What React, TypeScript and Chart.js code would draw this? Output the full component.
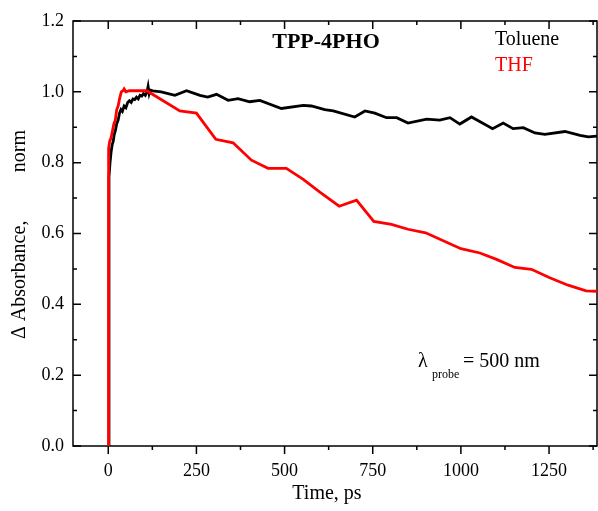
import React, { useEffect, useRef } from "react";
import { Chart, registerables } from "chart.js";

Chart.register(...registerables);

const tolueneTime = [0, 2, 5, 8, 11, 14, 17, 20, 24, 28, 32, 36, 40, 45, 50, 55, 60, 65, 70, 75, 80, 85, 90, 95, 100, 105, 110, 113, 116, 119, 126, 150, 189, 222, 260, 282, 307, 340, 368, 401, 430, 491, 553, 576, 614, 638, 699, 728, 756, 789, 818, 850, 903, 940, 969, 997, 1030, 1090, 1120, 1148, 1177, 1210, 1238, 1295, 1338, 1361, 1386];
const tolueneValues = [0, 0.76, 0.8, 0.83, 0.85, 0.86, 0.88, 0.89, 0.91, 0.92, 0.94, 0.95, 0.945, 0.96, 0.955, 0.97, 0.975, 0.97, 0.98, 0.978, 0.985, 0.98, 0.99, 0.988, 0.995, 0.99, 1.0, 1.015, 0.995, 1.005, 1.003, 1.0, 0.99, 1.003, 0.99, 0.985, 0.993, 0.976, 0.981, 0.972, 0.976, 0.953, 0.962, 0.96, 0.95, 0.946, 0.929, 0.946, 0.94, 0.927, 0.927, 0.912, 0.923, 0.92, 0.927, 0.909, 0.929, 0.896, 0.912, 0.896, 0.899, 0.884, 0.88, 0.888, 0.877, 0.873, 0.875];

const thfTime = [0, 1, 4, 8, 12, 16, 20, 24, 28, 32, 37, 42, 45, 50, 60, 75, 100, 109, 203, 250, 305, 354, 406, 453, 505, 553, 600, 655, 704, 753, 803, 850, 900, 1000, 1054, 1101, 1153, 1200, 1252, 1304, 1355, 1386];
const thfValues = [0, 0.84, 0.86, 0.87, 0.89, 0.91, 0.92, 0.95, 0.96, 0.98, 1.0, 1.003, 1.008, 1.0, 1.003, 1.003, 1.003, 1.003, 0.946, 0.94, 0.866, 0.856, 0.807, 0.784, 0.784, 0.753, 0.717, 0.677, 0.694, 0.634, 0.626, 0.612, 0.602, 0.557, 0.545, 0.527, 0.504, 0.499, 0.475, 0.454, 0.438, 0.437];

const xTicks = [0, 250, 500, 750, 1000, 1250];
const xMinorTicks = [125, 375, 625, 875, 1125, 1375];
const yTicks = [0, 0.2, 0.4, 0.6, 0.8, 1.0, 1.2];
const yMinorTicks = [0.1, 0.3, 0.5, 0.7, 0.9, 1.1];

const seriesNames = ["Toluene", "THF"];
const seriesColors = ["#000000", "#ff0000"];
const chartTitle = "TPP-4PHO";
const xTitle = "Time, ps";
const yTitleMain = "\u0394 Absorbance,";
const yTitleUnit = "norm";

const SERIF = '"Liberation Serif", "Times New Roman", serif';

const framePlugin = {
  id: "frame",
  beforeDatasetsDraw(chart: any) {
    const { ctx, chartArea, scales } = chart;
    const { left, right, top, bottom } = chartArea;
    const xs = scales.x;
    const ys = scales.y;
    ctx.save();
    ctx.strokeStyle = "#000";
    ctx.lineWidth = 1.5;
    ctx.strokeRect(left, top, right - left, bottom - top);
    ctx.beginPath();
    const major = 8;
    const minor = 4;
    xTicks.forEach((v) => {
      const p = xs.getPixelForValue(v);
      ctx.moveTo(p, bottom);
      ctx.lineTo(p, bottom + major);
      ctx.moveTo(p, top);
      ctx.lineTo(p, top + major);
    });
    xMinorTicks.forEach((v) => {
      const p = xs.getPixelForValue(v);
      if (p < left || p > right) return;
      ctx.moveTo(p, bottom);
      ctx.lineTo(p, bottom + minor);
      ctx.moveTo(p, top);
      ctx.lineTo(p, top + minor);
    });
    yTicks.forEach((v) => {
      const p = ys.getPixelForValue(v);
      ctx.moveTo(left, p);
      ctx.lineTo(left + major, p);
      ctx.moveTo(right, p);
      ctx.lineTo(right - major, p);
    });
    yMinorTicks.forEach((v) => {
      const p = ys.getPixelForValue(v);
      ctx.moveTo(left, p);
      ctx.lineTo(left + minor, p);
      ctx.moveTo(right, p);
      ctx.lineTo(right - minor, p);
    });
    ctx.stroke();
    ctx.restore();
  },
  afterDraw(chart: any) {
    const { ctx } = chart;
    ctx.save();
    ctx.fillStyle = "#000";
    ctx.textBaseline = "alphabetic";
    ctx.font = `bold 22px ${SERIF}`;
    ctx.textAlign = "center";
    ctx.fillText(chartTitle, 326, 48);

    ctx.font = `20px ${SERIF}`;
    ctx.textAlign = "left";
    ctx.fillStyle = seriesColors[0];
    ctx.fillText(seriesNames[0], 495, 45);
    ctx.fillStyle = seriesColors[1];
    ctx.fillText(seriesNames[1], 495, 71);

    ctx.fillStyle = "#000";
    ctx.font = `20px ${SERIF}`;
    ctx.fillText("\u03bb", 418, 367);
    ctx.font = `12px ${SERIF}`;
    ctx.fillText("probe", 432, 378);
    ctx.font = `20px ${SERIF}`;
    ctx.fillText("= 500 nm", 463, 367);

    ctx.font = `20px ${SERIF}`;
    ctx.textAlign = "center";
    ctx.textBaseline = "middle";
    ctx.fillText(xTitle, 327, 494);

    ctx.translate(20, 0);
    ctx.rotate(-Math.PI / 2);
    ctx.textAlign = "left";
    ctx.fillText(yTitleMain, -339, 0);
    ctx.textAlign = "right";
    ctx.fillText(yTitleUnit, -130, 0);
    ctx.restore();
  },
};

export default function App() {
  const canvasRef = useRef<HTMLCanvasElement | null>(null);

  useEffect(() => {
    if (!canvasRef.current) return;
    const chart = new Chart(canvasRef.current, {
      type: "line",
      data: {
        datasets: [
          {
            label: seriesNames[1],
            data: thfTime.map((t, i) => ({ x: t, y: thfValues[i] })),
            borderColor: seriesColors[1],
            borderWidth: 2.8,
            pointRadius: 0,
            tension: 0,
            fill: false,
          },
          {
            label: seriesNames[0],
            data: tolueneTime.map((t, i) => ({ x: t, y: tolueneValues[i] })),
            borderColor: seriesColors[0],
            borderWidth: 2.8,
            pointRadius: 0,
            tension: 0,
            fill: false,
          },
        ],
      },
      options: {
        animation: false,
        responsive: false,
        maintainAspectRatio: false,
        layout: { padding: { top: 21, right: 1, left: 0, bottom: 0 } },
        plugins: {
          legend: { display: false },
          tooltip: { enabled: false },
          title: { display: false },
        },
        scales: {
          x: {
            type: "linear",
            min: -100,
            max: 1386,
            grid: { display: false, drawTicks: false },
            border: { display: false },
            afterBuildTicks: (scale: any) => {
              scale.ticks = xTicks.map((v) => ({ value: v }));
            },
            afterFit: (scale: any) => {
              scale.height = 65;
            },
            ticks: {
              padding: 14,
              color: "#000",
              font: { family: SERIF, size: 18 },
              maxRotation: 0,
              autoSkip: false,
              callback: (v: any) => String(v),
            },
          },
          y: {
            type: "linear",
            min: 0,
            max: 1.2,
            grid: { display: false, drawTicks: false },
            border: { display: false },
            afterBuildTicks: (scale: any) => {
              scale.ticks = yTicks.map((v) => ({ value: v }));
            },
            afterFit: (scale: any) => {
              scale.width = 73;
            },
            ticks: {
              padding: 9,
              color: "#000",
              font: { family: SERIF, size: 18 },
              autoSkip: false,
              callback: (v: any) => Number(v).toFixed(1),
            },
          },
        },
      },
      plugins: [framePlugin],
    });
    return () => chart.destroy();
  }, []);

  return (
    <div style={{ position: "fixed", left: 0, top: 0, width: 598, height: 511, background: "#fff" }}>
      <canvas ref={canvasRef} width={598} height={511} style={{ display: "block" }} />
    </div>
  );
}
